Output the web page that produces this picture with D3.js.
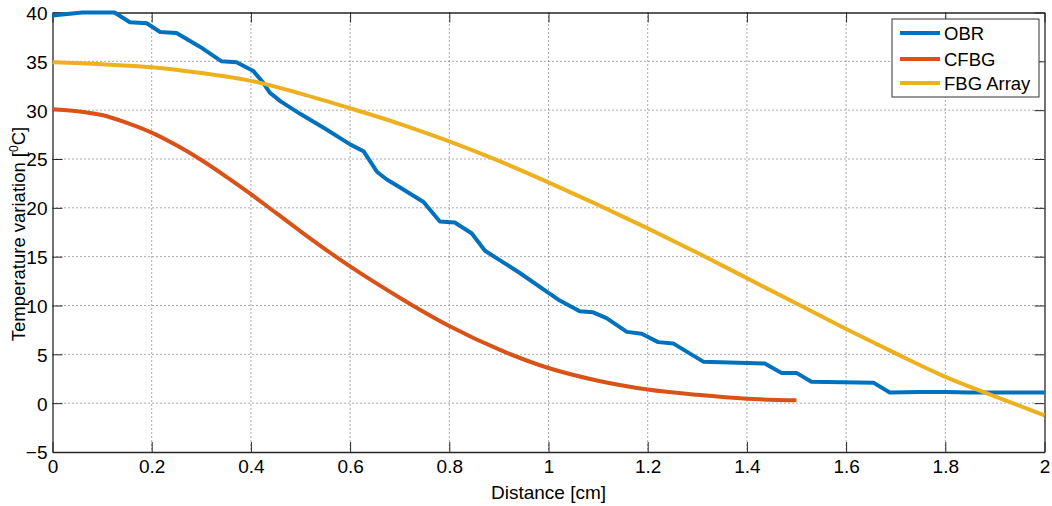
<!DOCTYPE html>
<html><head><meta charset="utf-8">
<script src="https://cdn.jsdelivr.net/npm/d3@7"></script>
<style>
body{margin:0;background:#fff;}
svg{display:block;font-family:"Liberation Sans",Arial,sans-serif;}
</style></head>
<body><svg id="c" width="1052" height="506"></svg>
<script>
const obrX = [0, 0.06, 0.125, 0.156, 0.19, 0.217, 0.25, 0.297, 0.341, 0.371, 0.405, 0.425, 0.438, 0.46, 0.5, 0.55, 0.6, 0.627, 0.654, 0.674, 0.7, 0.748, 0.781, 0.811, 0.845, 0.872, 0.9, 0.943, 1.0, 1.02, 1.063, 1.09, 1.117, 1.158, 1.188, 1.221, 1.252, 1.312, 1.436, 1.47, 1.5, 1.53, 1.655, 1.688, 1.75, 1.8, 1.85, 1.9, 2.0];
const obrY = [39.7, 40, 40, 39.0, 38.9, 38.0, 37.9, 36.5, 35.0, 34.9, 34.0, 32.8, 31.8, 30.9, 29.6, 28.1, 26.5, 25.8, 23.7, 22.9, 22.1, 20.6, 18.6, 18.5, 17.4, 15.6, 14.7, 13.3, 11.3, 10.6, 9.4, 9.3, 8.7, 7.3, 7.1, 6.25, 6.1, 4.25, 4.07, 3.1, 3.1, 2.2, 2.1, 1.1, 1.15, 1.15, 1.1, 1.1, 1.1];
const cfbgX = [0, 0.05, 0.1, 0.15, 0.2, 0.25, 0.3, 0.35, 0.4, 0.45, 0.5, 0.6, 0.7, 0.8, 0.9, 1.0, 1.1, 1.2, 1.3, 1.4, 1.5];
const cfbgY = [30.1, 29.9, 29.5, 28.7, 27.7, 26.4, 24.9, 23.2, 21.4, 19.5, 17.6, 14.0, 10.8, 7.9, 5.5, 3.6, 2.3, 1.4, 0.85, 0.45, 0.3];
const fbgX = [0, 0.1, 0.2, 0.3, 0.4, 0.5, 0.6, 0.7, 0.8, 0.9, 1.0, 1.1, 1.2, 1.3, 1.4, 1.5, 1.6, 1.7, 1.8, 1.9, 2.0];
const fbgY = [34.9, 34.7, 34.4, 33.8, 33.0, 31.7, 30.2, 28.6, 26.8, 24.8, 22.6, 20.3, 17.9, 15.4, 12.8, 10.2, 7.6, 5.1, 2.7, 0.7, -1.25];
const seriesNames = ["OBR", "CFBG", "FBG Array"];
const xTicks = [0, 0.2, 0.4, 0.6, 0.8, 1, 1.2, 1.4, 1.6, 1.8, 2];
const yTicks = [-5, 0, 5, 10, 15, 20, 25, 30, 35, 40];
const xLabel = "Distance [cm]";

const colors = ["#0072BD", "#D95319", "#EDB120"];
const L = 52.5, R = 1044.5, T = 12.5, B = 452;
const svg = d3.select("#c");
const x = d3.scaleLinear().domain([0, 2]).range([L, R]);
const y = d3.scaleLinear().domain([-5, 40]).range([B, T]);
const axisColor = "#262626";

// grid
const g = svg.append("g");
g.selectAll(".gx").data(xTicks.slice(1, -1)).join("line")
  .attr("x1", d => x(d)).attr("x2", d => x(d)).attr("y1", T).attr("y2", B)
  .attr("stroke", "#555").attr("stroke-width", 1).attr("stroke-dasharray", "1,3");
g.selectAll(".gy").data(yTicks.slice(1, -1)).join("line")
  .attr("y1", d => y(d)).attr("y2", d => y(d)).attr("x1", L).attr("x2", R)
  .attr("stroke", "#555").attr("stroke-width", 1).attr("stroke-dasharray", "1,3");

// axes
const fs = 19;
const ax = svg.append("g").attr("transform", `translate(0,${B})`)
  .call(d3.axisBottom(x).tickValues(xTicks).tickFormat(d3.format("")).tickSizeInner(-10).tickSizeOuter(0).tickPadding(8));
const ay = svg.append("g").attr("transform", `translate(${L},0)`)
  .call(d3.axisLeft(y).tickValues(yTicks).tickSizeInner(-10).tickSizeOuter(0).tickPadding(5));
const axTop = svg.append("g").attr("transform", `translate(0,${T})`)
  .call(d3.axisTop(x).tickValues(xTicks).tickFormat("").tickSizeInner(-10).tickSizeOuter(0));
const ayR = svg.append("g").attr("transform", `translate(${R},0)`)
  .call(d3.axisRight(y).tickValues(yTicks).tickFormat("").tickSizeInner(-10).tickSizeOuter(0));
[ax, ay, axTop, ayR].forEach(a => {
  a.select(".domain").attr("stroke", axisColor).attr("stroke-width", 1.3);
  a.selectAll(".tick line").attr("stroke", axisColor).attr("stroke-width", 1);
  a.selectAll("text").attr("fill", "#000").style("font-size", fs + "px").style("font-family", '"Liberation Sans",Arial,sans-serif');
});
ay.selectAll("text").attr("dy", "0.36em");

// lines
const series = [
  {x: obrX, y: obrY, curve: d3.curveLinear},
  {x: cfbgX, y: cfbgY, curve: d3.curveMonotoneX},
  {x: fbgX, y: fbgY, curve: d3.curveMonotoneX}
];
series.forEach((s, i) => {
  const pts = s.x.map((v, j) => [v, s.y[j]]);
  svg.append("path").datum(pts)
    .attr("d", d3.line().x(d => x(d[0])).y(d => y(d[1])).curve(s.curve))
    .attr("fill", "none").attr("stroke", colors[i]).attr("stroke-width", 4)
    .attr("stroke-linejoin", "round");
});

// labels
svg.append("text").attr("x", (L + R) / 2).attr("y", 499).attr("text-anchor", "middle")
  .style("font-size", "19px").text(xLabel);
const yl = svg.append("text").attr("transform", "translate(25,234) rotate(-90)")
  .attr("text-anchor", "middle").style("font-size", "18.5px");
yl.append("tspan").text("Temperature variation [");
yl.append("tspan").attr("baseline-shift", "super").style("font-size", "12px").text("0");
yl.append("tspan").text("C]");

// legend
const lg = svg.append("g");
lg.append("rect").attr("x", 892).attr("y", 19).attr("width", 147).attr("height", 78)
  .attr("fill", "#fff").attr("stroke", "#333").attr("stroke-width", 1);
const rowsY = [33, 59, 83];
seriesNames.forEach((n, i) => {
  lg.append("line").attr("x1", 900).attr("x2", 940).attr("y1", rowsY[i]).attr("y2", rowsY[i])
    .attr("stroke", colors[i]).attr("stroke-width", 4);
  lg.append("text").attr("x", 944).attr("y", rowsY[i]).attr("dy", "0.36em")
    .style("font-size", "18.5px").text(n);
});
</script></body></html>
